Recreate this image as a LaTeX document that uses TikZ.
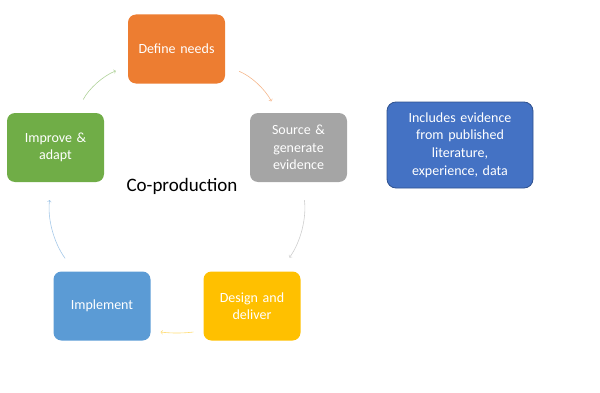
\documentclass[tikz,border=0pt]{standalone}
\usepackage{fontspec}
\setmainfont{Carlito}

\definecolor{needsorange}{HTML}{ED7D31}
\definecolor{sourcegrey}{HTML}{A5A5A5}
\definecolor{improvegreen}{HTML}{70AD47}
\definecolor{implblue}{HTML}{5B9BD5}
\definecolor{designyellow}{HTML}{FFC000}
\definecolor{infoblue}{HTML}{4472C4}
\definecolor{infoedge}{HTML}{2F528F}

\begin{document}
\begin{tikzpicture}[x=1pt, y=1pt,
    stage/.style={rounded corners=8pt, minimum width=97pt, minimum height=69pt,
        inner sep=0pt, text width=90pt, align=center, text=white,
        font=\fontsize{14}{17.5}\selectfont},
    cyc/.style={->, line width=0.6pt, shorten <=15pt, shorten >=13pt}]
    \useasboundingbox (0,0) rectangle (600,392);
    % Cycle of stages
    \node[stage, fill=needsorange] (define) at (176.5,343) {Define needs};
    \node[stage, fill=sourcegrey] (source) at (298.5,244.5) {Source \&\\generate\\evidence};
    \node[stage, fill=designyellow] (design) at (252,86) {Design and\\deliver};
    \node[stage, fill=implblue] (implement) at (102,86) {Implement};
    \node[stage, fill=improvegreen] (improve) at (55.5,244.5) {Improve \&\\adapt};
    % Centre label
    \node[font=\fontsize{19}{22}\selectfont] (coprod) at (182,206) {Co-production};
    % Side note
    \node[rounded corners=9pt, minimum width=146pt, minimum height=86pt, inner sep=0pt,
        text width=140pt, align=center, text=white, fill=infoblue, draw=infoedge,
        line width=0.8pt, font=\fontsize{14}{17.6}\selectfont] (info) at (460,247)
        {Includes evidence\\from published\\literature,\\experience, data};
    % Arrows between stages
    \draw[cyc, improvegreen!55] (improve) to[bend left=20] (define);
    \draw[cyc, needsorange!55] (define) to[bend left=20] (source);
    \draw[cyc, sourcegrey!55, shorten <=18pt, shorten >=17pt] (source) to[bend left=22] (design);
    \draw[cyc, designyellow!55, shorten <=10pt, shorten >=10pt] (design.207) to[bend left=7] (implement.-27);
    \draw[cyc, implblue!55, shorten <=16pt, shorten >=18pt] (implement) to[bend left=22] (improve);
\end{tikzpicture}
\end{document}
